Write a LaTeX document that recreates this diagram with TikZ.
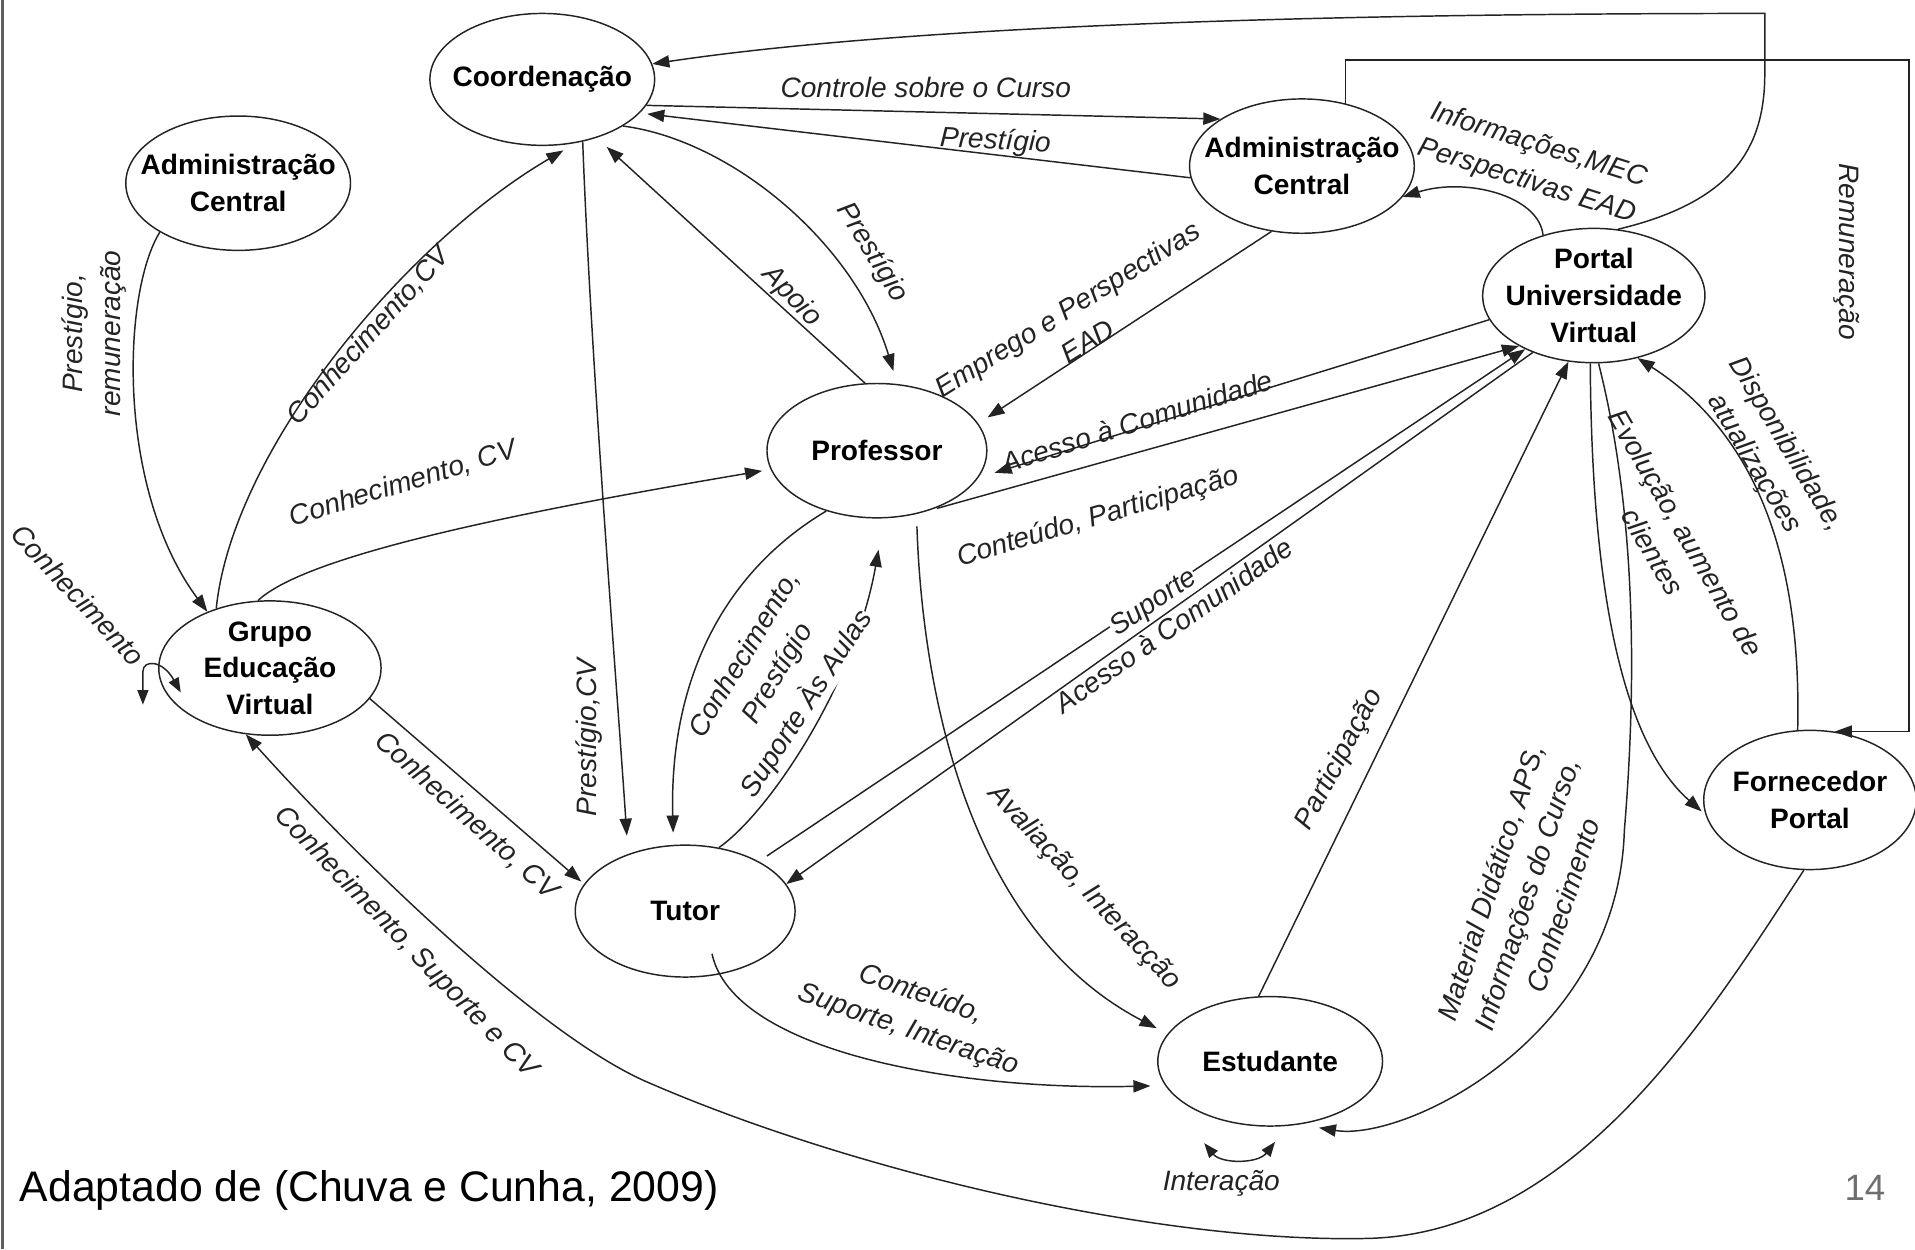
\documentclass[tikz,border=0pt]{standalone}
\usepackage{fontspec}
\setmainfont{Liberation Sans}
\usetikzlibrary{shapes.geometric, arrows.meta, calc}
\definecolor{ink}{RGB}{35,35,35}
\definecolor{pagegray}{RGB}{110,110,110}
\definecolor{framegray}{RGB}{95,95,95}

\begin{document}
\begin{tikzpicture}[x=1pt, y=-1pt,
  st/.style={draw=ink, line width=1.2pt, ellipse, inner sep=0pt},
  nt/.style={font=\fontsize{23}{30}\selectfont\bfseries, align=center, inner sep=0pt, text=black},
  lbl/.style={font=\fontsize{23}{31}\selectfont\itshape, align=center, inner sep=1pt, text=ink},
  onl/.style={lbl, fill=white, inner sep=0.5pt},
  tip/.style={Triangle[length=14pt,width=10pt]},
  con/.style={draw=ink, line width=1.2pt, -{Triangle[length=14pt,width=10pt]}},
  both/.style={draw=ink, line width=1.2pt, {Triangle[length=12pt,width=9pt]}-{Triangle[length=12pt,width=9pt]}},
]
\useasboundingbox (0,0) rectangle (1568,1023);
\draw[framegray, line width=2pt] (2,0) -- (2,1023);

% ---------- actors ----------
\node[st, minimum width=184pt, minimum height=108pt] (coord)  at (444,65)  {};
\node[st, minimum width=184pt, minimum height=110pt] (admL)   at (195,150) {};
\node[st, minimum width=184pt, minimum height=110pt] (admR)   at (1066,136) {};
\node[st, minimum width=182pt, minimum height=110pt] (portal) at (1305,242) {};
\node[st, minimum width=180pt, minimum height=110pt] (prof)   at (718,369) {};
\node[st, minimum width=182pt, minimum height=110pt] (grupo)  at (221,547) {};
\node[st, minimum width=180pt, minimum height=108pt] (tutor)  at (561,746) {};
\node[st, minimum width=184pt, minimum height=106pt] (estud)  at (1040,869) {};
\node[st, minimum width=174pt, minimum height=114pt] (forn)   at (1482,655) {};

\node[nt] (coordT)  at (coord)  {Coordenação};
\node[nt] (admLT)   at (admL)   {Administração\\Central};
\node[nt] (admRT)   at (admR)   {Administração\\Central};
\node[nt] (portalT) at (portal) {Portal\\Universidade\\Virtual};
\node[nt] (profT)   at (prof)   {Professor};
\node[nt] (grupoT)  at (grupo)  {Grupo\\Educação\\Virtual};
\node[nt] (tutorT)  at (tutor)  {Tutor};
\node[nt] (estudT)  at (estud)  {Estudante};
\node[nt] (fornT)   at (forn)   {Fornecedor\\Portal};

% ---------- helper points ----------
\coordinate (remC) at (1563,49);
\coordinate (gA) at (117,577);
\coordinate (gB) at (148,567);
\coordinate (eA) at (986,936);
\coordinate (eB) at (1044,935);

% ---------- flows ----------
% Portal -> Coordenacao, over the top
\draw[con] (portal.70) .. controls (1420,165) and (1445,120) .. (1445,60) -- (1445,11)
  .. controls (1100,11) and (750,20) .. (coord.8);
% Coordenacao -> Administracao (right)
\draw[con] (coord.-14) -- (admR.150);
% Administracao (right) -> Coordenacao
\draw[con, shorten >=6pt] (admR.-174) -- (coord.-19);
% Coordenacao -> Professor
\draw[con, shorten >=11pt] (coord.-30) .. controls (600,115) and (700,200) .. (prof.73);
% Professor -> Coordenacao
\draw[con, shorten >=11pt] (prof.100) -- (coord.-47);
% Administracao (right) -> Professor
\draw[con, shorten >=9pt] (admR.-115) -- (prof.15);
% Administracao (left) -> Grupo
\draw[con] (admL.-148) .. controls (100,240) and (95,400) .. (grupo.138);
% Grupo -> Coordenacao
\draw[con, shorten >=12pt] (grupo.132) .. controls (190,370) and (330,200) .. (coord.-62);
% Grupo -> Professor
\draw[con, shorten >=7pt] (grupo.100) .. controls (250,455) and (420,420) .. (prof.-170);
% Grupo -> itself
\draw[both] (gA) -- (117,550) .. controls (117,540) and (133,540) .. (gB);
% Grupo -> Tutor
\draw[con, shorten >=3pt] (grupo.-17) -- (tutor.165);
% Fornecedor -> Grupo, along the bottom
\draw[con] (forn.-95) .. controls (1400,830) and (1290,1010) .. (1120,1014)
  .. controls (950,1018) and (700,960) .. (530,886)
  .. controls (440,847) and (290,700) .. (grupo.-110);
% Coordenacao -> Tutor
\draw[con, shorten >=15pt] (coord.-57) .. controls (484,300) and (505,560) .. (tutor.135);
% Professor -> Tutor
\draw[con, shorten >=10pt] (prof.-130) .. controls (590,470) and (548,560) .. (tutor.100);
% Tutor -> Professor
\draw[con, shorten >=26pt] (tutor.62) .. controls (630,665) and (700,560) .. (prof.-84);
% Tutor -> Portal
\draw[con, shorten <=8pt] (tutor.34) -- (portal.-142);
% Portal -> Tutor
\draw[con] (portal.-137) -- (tutor.15);
% Portal -> Professor
\draw[con, shorten >=14pt] (portal.-167) -- (prof.-15);
% Professor -> Portal
\draw[con, shorten <=8pt] (prof.-50) -- (portal.-146);
% Professor -> Estudante
\draw[con, shorten <=10pt, shorten >=10pt] (prof.-58) .. controls (755,560) and (790,760) .. (estud.165);
% Tutor -> Estudante
\draw[con, shorten >=12pt] ($(tutor)+(22,35)$) .. controls (600,860) and (780,893) .. (estud.-167);
% Estudante -> Portal
\draw[con] (estud.100) -- (portal.-111);
% Portal -> Estudante
\draw[con, shorten >=16pt] (portal.-86) .. controls (1340,420) and (1340,560) .. (1330,680)
  .. controls (1325,850) and (1150,935) .. (estud.-65);
% Portal -> Fornecedor
\draw[con, shorten >=4pt] (portal.-93) .. controls (1303,450) and (1320,600) .. (forn.-172);
% Fornecedor -> Portal
\draw[con] (forn.100) .. controls (1475,470) and (1445,360) .. (portal.-55);
% Administracao (right) -> Fornecedor
\draw[con] (admR.55) |- (remC) |- (forn.70);
% Portal -> Administracao (right)
\draw[con] (portal.130) .. controls (1260,160) and (1200,145) .. (admR.-17);
% Estudante <-> Estudante
\draw[both] (eA) .. controls (1000,953) and (1030,953) .. (eB);

% ---------- flow labels ----------
\node[lbl] (lControle) at (758,71.5) {Controle sobre o Curso};
\node[lbl, rotate=-3] (lPrest1) at (815,116) {Prestígio};
\node[lbl, rotate=-58] (lPrest2) at (714,207) {Prestígio};
\node[lbl, rotate=-46] (lApoio) at (648,243) {Apoio};
\node[lbl, rotate=32] (lEmprego) at (882,266) {Emprego e Perspectivas\\EAD};
\node[lbl, rotate=90] (lPremun) at (77,273) {Prestígio,\\remuneração};
\node[lbl, rotate=48] (lConhCoord) at (302,275) {Conhecimento,CV};
\node[lbl, rotate=17] (lConhProf) at (330,396) {Conhecimento, CV};
\node[lbl, rotate=-47] (lConhSelf) at (64,487) {Conhecimento};
\node[lbl, rotate=-42] (lConhTutor) at (382,668) {Conhecimento, CV};
\node[lbl, rotate=-46] (lConhSup) at (332,772) {Conhecimento, Suporte e CV};
\node[lbl, rotate=90] (lPrestCV) at (482,604) {Prestígio,CV};
\node[lbl, rotate=59] (lConhPrest) at (624,544) {Conhecimento,\\Prestígio};
\node[onl, rotate=57] (lAulas) at (660,576) {Suporte Às Aulas};
\node[lbl, rotate=17.5] (lAcessoP) at (931,345) {Acesso à Comunidade};
\node[lbl, rotate=16.5] (lConteudo) at (899,424) {Conteúdo, Participação};
\node[onl, rotate=35] (lAcessoT) at (961,512) {Acesso à Comunidade};
\node[onl, rotate=34] (lSuporte) at (945,494) {Suporte};
\node[lbl, rotate=-47] (lAval) at (888,727) {Avaliação, Interacção};
\node[lbl, rotate=-19] (lConteudoT) at (749,829) {Conteúdo,\\Suporte, Interação};
\node[lbl, rotate=62] (lPart) at (1097,622) {Participação};
\node[lbl, rotate=72] (lMaterial) at (1250,732) {Material Didático, APS,\\Informações do Curso,\\Conhecimento};
\node[lbl, rotate=-60] (lEvol) at (1367,444) {Evolução, aumento de\\clientes};
\node[lbl, rotate=-59] (lDisp) at (1449,372) {Disponibilidade,\\atualizações};
\node[lbl, rotate=-90] (lRemun) at (1512,206) {Remuneração};
\node[lbl, rotate=-17.5] (lInfo) at (1255,134) {Informações,MEC\\Perspectivas EAD};
\node[lbl] (lInter) at (1000,969) {Interação};

% ---------- footer ----------
\node[anchor=west, inner sep=0pt, font=\fontsize{35}{40}\selectfont] (credit) at (16,975) {Adaptado de (Chuva e Cunha, 2009)};
\node[inner sep=0pt, font=\fontsize{30}{34}\selectfont, text=pagegray] (pageno) at (1527,973) {14};
\end{tikzpicture}
\end{document}
